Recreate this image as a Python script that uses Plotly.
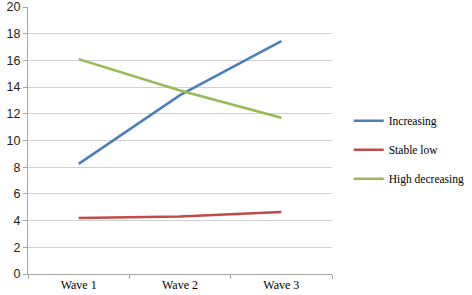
import plotly.graph_objects as go

waves = ["Wave 1", "Wave 2", "Wave 3"]
increasing = [8.25, 13.4, 17.45]
stable_low = [4.2, 4.3, 4.65]
high_decreasing = [16.1, 13.75, 11.7]
y_ticks = [0, 2, 4, 6, 8, 10, 12, 14, 16, 18, 20]

series = [
    ("Increasing", increasing, "#4a7ebb"),
    ("Stable low", stable_low, "#be4b48"),
    ("High decreasing", high_decreasing, "#98b954"),
]

fig = go.Figure()
for i, (name, vals, color) in enumerate(series):
    fig.add_trace(go.Scatter(
        x=waves, y=vals, mode="lines", name=name,
        line=dict(color=color, width=2.5),
        legendgroup=f"g{i}",
    ))

fig.update_layout(
    width=472, height=295,
    margin=dict(l=28, r=140, t=7, b=21, autoexpand=False),
    paper_bgcolor="white", plot_bgcolor="white",
    showlegend=True,
    legend=dict(
        x=1.055, xanchor="left", y=0.465, yanchor="middle",
        font=dict(family="Liberation Serif", size=11.5, color="#000000"),
        tracegroupgap=10, itemwidth=30,
        bgcolor="rgba(0,0,0,0)",
    ),
    xaxis=dict(
        type="category", range=[-0.5, 2.5], automargin=False,
        showgrid=False, showline=True, linecolor="#a6a6a6", linewidth=1,
        ticks="outside", tickson="boundaries", ticklen=4, tickcolor="#a6a6a6",
        tickfont=dict(family="Liberation Serif", size=12, color="#000000"),
        zeroline=False,
    ),
    yaxis=dict(
        range=[0, 20], tickvals=y_ticks, automargin=False,
        showgrid=True, gridcolor="#cfcfcf", gridwidth=1,
        showline=True, linecolor="#a6a6a6", linewidth=1,
        ticks="outside", ticklen=4, tickcolor="#a6a6a6",
        tickfont=dict(family="Liberation Sans", size=12.5, color="#222222"),
        zeroline=False,
    ),
)

fig.write_html(
    "out.html",
    config={"displayModeBar": False},
    post_script="document.body.style.margin='0';",
)
